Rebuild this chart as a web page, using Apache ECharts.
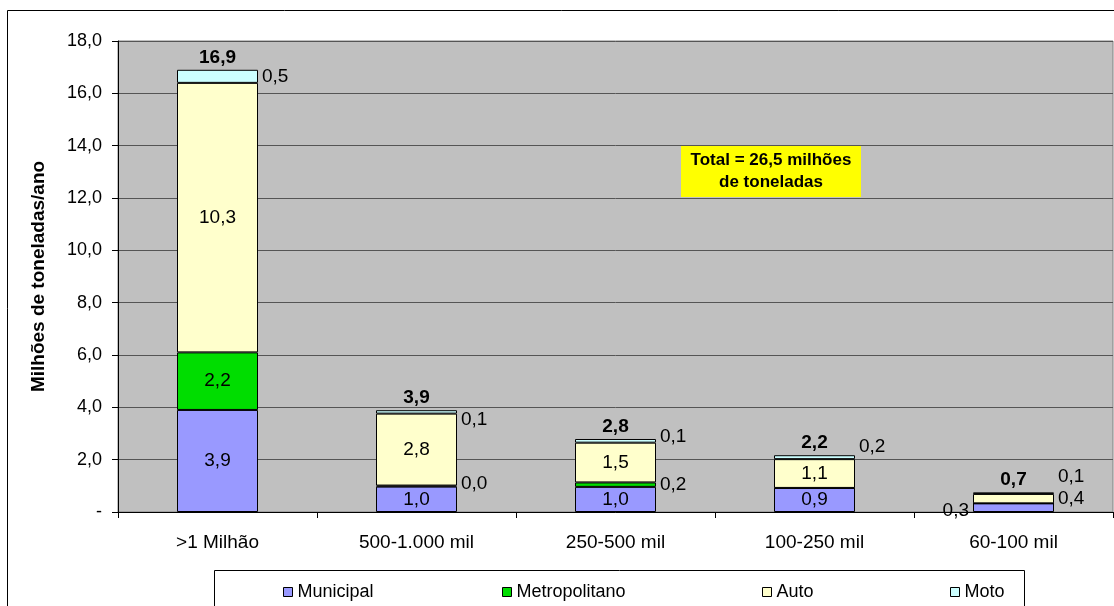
<!DOCTYPE html>
<html>
<head>
<meta charset="utf-8">
<script src="https://cdn.jsdelivr.net/npm/echarts@6/dist/echarts.min.js"></script>
<style>
html,body{margin:0;padding:0;background:#fff;}
#c{width:1114px;height:606px;}
</style>
</head>
<body>
<div id="c"></div>
<script>
var categories = ['>1 Milhão', '500-1.000 mil', '250-500 mil', '100-250 mil', '60-100 mil'];
var municipal = [3.9, 0.97, 0.96, 0.92, 0.33];
var metropolitano = [2.2, 0.04, 0.17, 0, 0];
var auto = [10.3, 2.75, 1.52, 1.1, 0.36];
var moto = [0.5, 0.13, 0.14, 0.15, 0.06];
var totals = [16.9, 3.9, 2.8, 2.2, 0.7];
var yTicks = [0, 2, 4, 6, 8, 10, 12, 14, 16, 18];

var FONT = 'Liberation Sans, Arial, sans-serif';
function fmt(v){ return (Math.round(v*10)/10).toFixed(1).replace('.', ','); }

// label placement per series / category (style only)
var labelPos = {
  municipal: ['inside','inside','inside','inside','left'],
  metropolitano: ['inside','right','right',null,null],
  auto: ['inside','inside','inside','inside','right'],
  moto: ['right','right','right','right','right']
};
var labelOffset = {
  municipal: [[0,0],[0,0],[0,0],[0,0],[0,3]],
  metropolitano: [[0,0],[0,-2],[0,0],[0,0],[0,0]],
  auto: [[0,0],[0,0],[0,0],[0,0],[0,0]],
  moto: [[0,0],[0,8],[0,-4],[0,-10],[0,-16]]
};

function buildData(key, arr){
  return arr.map(function(v,i){
    var p = labelPos[key][i];
    return {
      value: v,
      label: p ? { show: true, position: p, offset: labelOffset[key][i], distance: 4 } : { show: false }
    };
  });
}

function barSeries(name, key, arr, color){
  return {
    name: name, type: 'bar', stack: 'a', barWidth: 81,
    data: buildData(key, arr),
    itemStyle: { color: color, borderColor: '#000', borderWidth: 1 },
    label: { color: '#000', fontSize: 19, fontFamily: FONT, formatter: function(p){ return fmt(p.value); } },
    emphasis: { disabled: true }
  };
}

var chart = echarts.init(document.getElementById('c'), null, { renderer: 'canvas' });

var legendItems = [
  { name: 'Municipal', left: 278 },
  { name: 'Metropolitano', left: 497 },
  { name: 'Auto', left: 757 },
  { name: 'Moto', left: 945 }
];

var option = {
  animation: false,
  backgroundColor: '#fff',
  textStyle: { fontFamily: FONT },
  grid: { left: 118, right: 1, top: 41, bottom: 94, show: true, backgroundColor: '#C0C0C0', borderColor: '#808080', borderWidth: 1 },
  legend: legendItems.map(function(l){
    return {
      data: [l.name], left: l.left, top: 578, icon: 'rect', itemWidth: 9, itemHeight: 9, itemGap: 5,
      textStyle: { fontSize: 18, color: '#000', fontFamily: FONT },
      itemStyle: { borderColor: '#000', borderWidth: 1 },
      selectedMode: false
    };
  }),
  xAxis: {
    type: 'category', data: categories,
    axisLine: { lineStyle: { color: '#000', width: 1 } },
    axisTick: { show: true, length: 6, lineStyle: { color: '#000' } },
    axisLabel: { color: '#000', fontSize: 19, fontFamily: FONT, margin: 21 },
    splitLine: { show: false }
  },
  yAxis: {
    type: 'value', min: 0, max: 18, interval: 2,
    name: 'Milhões de toneladas/ano', nameLocation: 'middle', nameGap: 70,
    nameTextStyle: { fontSize: 19, fontWeight: 'bold', color: '#000', fontFamily: FONT },
    axisLine: { show: true, lineStyle: { color: '#000' } },
    axisTick: { show: true, length: 6, inside: false, lineStyle: { color: '#000' } },
    axisLabel: { color: '#000', fontSize: 18, fontFamily: FONT, margin: 16,
      formatter: function(v){ return v === 0 ? '-' : fmt(v); } },
    splitLine: { show: true, lineStyle: { color: '#555', width: 1 } }
  },
  series: [
    barSeries('Municipal', 'municipal', municipal, '#9999FF'),
    barSeries('Metropolitano', 'metropolitano', metropolitano, '#00DD00'),
    barSeries('Auto', 'auto', auto, '#FFFFCC'),
    barSeries('Moto', 'moto', moto, '#CCFFFF'),
    {
      name: 'Total', type: 'bar', stack: 'a', barWidth: 81,
      data: totals.map(function(){ return 0; }),
      itemStyle: { color: 'rgba(0,0,0,0)', borderWidth: 0 },
      label: { show: true, position: 'top', distance: 3, color: '#000', fontSize: 19, fontWeight: 'bold', fontFamily: FONT,
        formatter: function(p){ return fmt(totals[p.dataIndex]); } },
      emphasis: { disabled: true }
    }
  ],
  graphic: [
    { type: 'rect', shape: { x: 7.5, y: 10.5, width: 1120, height: 620 }, style: { fill: 'none', stroke: '#000', lineWidth: 1 }, z: 100, silent: true },
    { type: 'rect', shape: { x: 214.5, y: 570.5, width: 810, height: 40 }, style: { fill: 'none', stroke: '#000', lineWidth: 1 }, z: 100, silent: true },
    { type: 'rect', shape: { x: 681, y: 146, width: 180, height: 51 }, style: { fill: '#FFFF00' }, z: 100, silent: true },
    { type: 'text', x: 771, y: 171.5, z: 101, silent: true,
      style: { text: 'Total = 26,5 milhões\nde toneladas', fill: '#000', font: 'bold 17px ' + FONT, align: 'center', verticalAlign: 'middle', lineHeight: 22 } }
  ]
};
chart.setOption(option);
</script>
</body>
</html>
